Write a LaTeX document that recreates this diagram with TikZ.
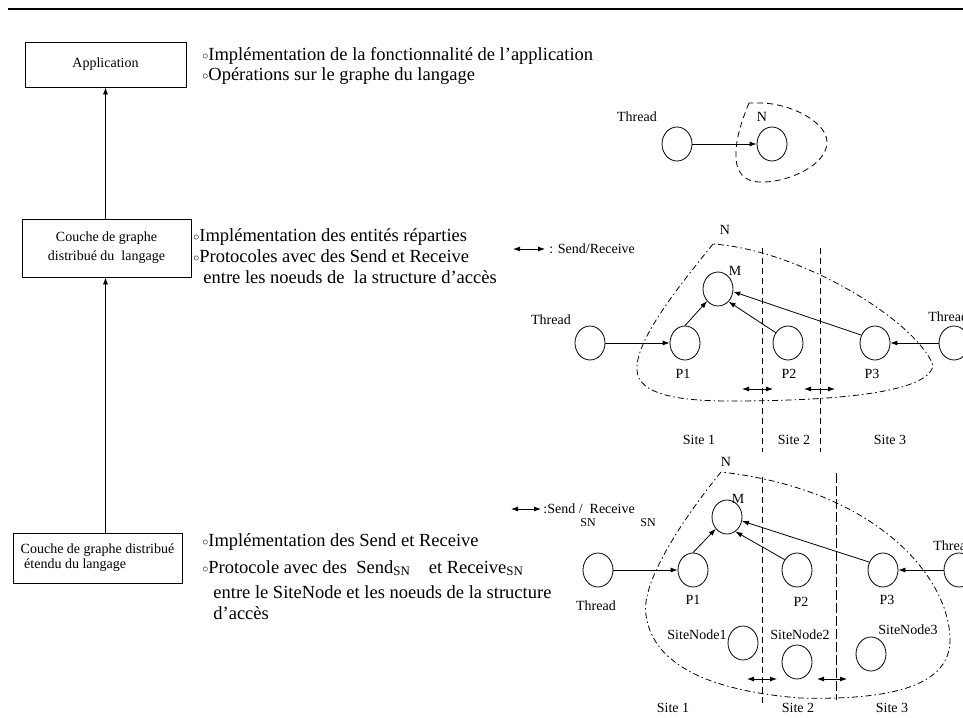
\documentclass[tikz,border=0pt]{standalone}
\usepackage{fontspec}
\setmainfont{Liberation Serif}
\usepackage{tikz}
\usetikzlibrary{arrows.meta,shapes.geometric}

\newcommand{\puce}{\raisebox{0.1ex}{$\scriptstyle\circ$}}

\begin{document}
\begin{tikzpicture}[x=1pt,y=-1pt,>={Latex[length=7pt,width=5pt]},line width=0.8pt,
    boite/.style={draw,rectangle,inner sep=0pt,font=\fontsize{14}{19}\selectfont},
    texte/.style={anchor=base west,inner sep=0pt,font=\fontsize{18.5}{20}\selectfont},
    etiq/.style={inner sep=0pt,font=\fontsize{14}{16}\selectfont},
    rond/.style={draw,ellipse,minimum width=30,minimum height=34,inner sep=0pt},
    tirets/.style={dash pattern=on 6pt off 4pt},
    pointilles/.style={dash pattern=on 6pt off 3pt on 1.5pt off 3pt},
    longtirets/.style={dash pattern=on 10pt off 3pt}]

    \useasboundingbox (0,0) rectangle (963,717);

    % Trait du haut
    \draw[line width=2.5pt] (8,9) -- (963,9);

    % Les trois couches
    \node[boite,minimum width=161,minimum height=45] (appli) at (105.5,64.5) {Application};
    \node[boite,minimum width=169,minimum height=58,align=center] (graphe) at (106.5,248)
        {Couche de graphe\\distribué du \ langage};
    \node[boite,minimum width=169,minimum height=50,align=left,font=\fontsize{14}{15}\selectfont]
        (etendu) at (97.5,558) {Couche de graphe distribué\\\hspace{0.25em}étendu du langage};
    \draw[->] (etendu.north -| appli.south) -- (graphe.south -| appli.south);
    \draw[->] (graphe.north -| appli.south) -- (appli.south);

    % Les commentaires
    \node[texte] (b1) at (202,60) {\puce Implémentation de la fonctionnalité de l'application};
    \node[texte] (b2) at (202,80) {\puce Opérations sur le graphe du langage};
    \node[texte] (b3) at (193,241) {\puce Implémentation des entités réparties};
    \node[texte] (b4) at (193,262) {\puce Protocoles avec des Send et Receive};
    \node[texte] (b5) at (203,283) {entre les noeuds de \ la structure d'accès};
    \node[texte] (b6) at (202,546) {\puce Implémentation des Send et Receive};
    \node[texte] (b7) at (202,573) {\puce Protocole avec des \ Send\textsubscript{SN}\quad et Receive\textsubscript{SN}};
    \node[texte] (b8) at (213,598) {entre le SiteNode et les noeuds de la structure};
    \node[texte] (b9) at (213,619) {d'accès};

    % Premier schema
    \node[rond] (fil0) at (677,144) {};
    \node[rond] (n0) at (772,144) {};
    \node[etiq] (lfil0) at (637,117) {Thread};
    \node[etiq] (ln0) at (762,117) {N};
    \draw[->] (fil0) -- (n0);
    \draw[tirets] (749,103) .. controls (742,120) and (735,140) .. (736,158)
        .. controls (737,178) and (750,183) .. (765,182)
        .. controls (790,181) and (827,165) .. (827,142)
        .. controls (827,122) and (790,103) .. (760,103) -- cycle;

    % Deuxieme schema
    \coordinate (leg1a) at (513,249);
    \coordinate (leg1b) at (545,249);
    \draw[<->] (leg1a) -- (leg1b);
    \node[etiq,anchor=west] (leg1) at (549,249) {: Send/Receive};

    \node[rond] (fil1) at (590,343) {};
    \node[rond] (p1) at (685,343) {};
    \node[rond] (p2) at (788,343) {};
    \node[rond] (p3) at (875,343) {};
    \node[rond] (fil2) at (954,343) {};
    \node[rond] (m1) at (718,289) {};
    \node[etiq] (ln1) at (725,230) {N};
    \node[etiq] (lm1) at (735,271) {M};
    \node[etiq] (lfil1) at (551,320) {Thread};
    \node[etiq,anchor=west] (lfil2) at (928,317) {Thread};
    \node[etiq] (lp1) at (683,374) {P1};
    \node[etiq] (lp2) at (789,374) {P2};
    \node[etiq] (lp3) at (872,374) {P3};
    \node[etiq] (site1) at (699,440) {Site 1};
    \node[etiq] (site2) at (794,440) {Site 2};
    \node[etiq] (site3) at (890,440) {Site 3};
    \draw[->] (fil1) -- (p1);
    \draw[->] (p1.north) -- (m1);
    \draw[->] (p2.140) -- (m1.-50);
    \draw[->] (p3.150) -- (m1.-10);
    \draw[->] (fil2) -- (p3);
    \draw[pointilles] (713,244) .. controls (680,285) and (635,340) .. (637,370)
        .. controls (638,395) and (680,401) .. (730,401)
        .. controls (820,401) and (930,395) .. (933,365)
        .. controls (915,320) and (800,250) .. (713,244);
    \draw[tirets] (762,248) -- (762,452);
    \draw[tirets] (820,248) -- (820,452);
    \coordinate (e1a) at (742,389);
    \coordinate (e1b) at (773,389);
    \coordinate (e2a) at (804,389);
    \coordinate (e2b) at (835,389);
    \draw[<->] (e1a) -- (e1b);
    \draw[<->] (e2a) -- (e2b);

    % Troisieme schema
    \coordinate (leg2a) at (511,509);
    \coordinate (leg2b) at (541,509);
    \draw[<->] (leg2a) -- (leg2b);
    \node[etiq,anchor=west] (leg2) at (543,509) {:Send /\ \ Receive};
    \node[etiq,font=\fontsize{12}{14}\selectfont] (sn1) at (588,523) {SN};
    \node[etiq,font=\fontsize{12}{14}\selectfont] (sn2) at (648,523) {SN};

    \node[rond] (fil3) at (598,570) {};
    \node[rond] (q1) at (693,570) {};
    \node[rond] (q2) at (797,570) {};
    \node[rond] (q3) at (883,570) {};
    \node[rond] (fil4) at (959,570) {};
    \node[rond] (m2) at (727,517) {};
    \node[rond] (sn1c) at (743,643) {};
    \node[rond] (sn2c) at (797,662) {};
    \node[rond] (sn3c) at (871,654) {};
    \node[etiq] (ln2) at (726,462) {N};
    \node[etiq] (lm2) at (738,499) {M};
    \node[etiq] (lfil3) at (596,606) {Thread};
    \node[etiq,anchor=west] (lfil4) at (933,546) {Thread};
    \node[etiq] (lq1) at (693,600) {P1};
    \node[etiq] (lq2) at (801,602) {P2};
    \node[etiq] (lq3) at (887,600) {P3};
    \node[etiq] (lsn1) at (697,635) {SiteNode1};
    \node[etiq] (lsn2) at (800,635) {SiteNode2};
    \node[etiq] (lsn3) at (908,630) {SiteNode3};
    \node[etiq] (site4) at (673,708) {Site 1};
    \node[etiq] (site5) at (798,708) {Site 2};
    \node[etiq] (site6) at (892,708) {Site 3};
    \draw[->] (fil3) -- (q1);
    \draw[->] (q1.north) -- (m2);
    \draw[->] (q2.140) -- (m2.-60);
    \draw[->] (q3.150) -- (m2.-15);
    \draw[->] (fil4) -- (q3);
    \draw[pointilles] (721,472) .. controls (690,510) and (640,580) .. (646,615)
        .. controls (652,660) and (700,690) .. (800,698)
        .. controls (880,700) and (950,690) .. (950,640)
        .. controls (950,580) and (880,490) .. (721,472);
    \draw[tirets] (762,477) -- (762,703);
    \draw[longtirets] (836,473) -- (836,700);
    \coordinate (e3a) at (747,679);
    \coordinate (e3b) at (777,679);
    \coordinate (e4a) at (817,679);
    \coordinate (e4b) at (847,679);
    \draw[<->] (e3a) -- (e3b);
    \draw[<->] (e4a) -- (e4b);
\end{tikzpicture}
\end{document}
